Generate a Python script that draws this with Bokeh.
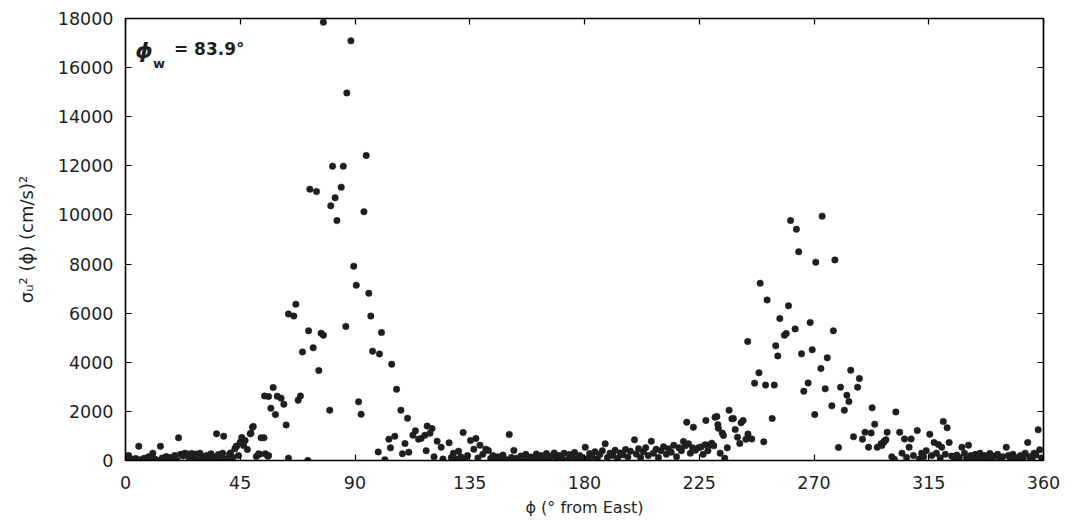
from bokeh.plotting import figure
from bokeh.models import LinearAxis, FixedTicker, Range1d, Label
from bokeh.embed import file_html
from bokeh.resources import INLINE

# Wave-direction bins (degrees from East) and velocity variance (cm/s)^2

# 0-45 deg: quiet sector
phi_a = [0.3, 0.8, 1.2, 1.8, 2.5, 3.2, 4.0, 5.2, 5.8, 6.5, 7.3, 8.1, 9.0, 9.8,
         10.7, 11.5, 12.3, 13.7, 14.4, 15.2, 16.0, 16.9, 17.6, 18.4, 19.3, 20.1,
         20.8, 21.6, 22.5, 23.3, 24.2, 25.0, 25.9, 26.7, 27.5, 28.4, 29.2, 30.1,
         30.9, 31.8, 32.6, 33.5, 34.3, 35.2, 35.7, 36.4, 37.2, 38.1, 38.5, 39.3,
         40.0, 40.8, 41.2, 42.1, 42.9, 43.4, 43.6, 44.3]
var_a = [120, 40, 200, 0, 60, 10, 80, 580, 30, 0, 90, 20, 150, 0,
         300, 60, 10, 580, 100, 30, 160, 0, 120, 60, 200, 10,
         925, 250, 180, 300, 260, 80, 290, 120, 260, 20, 300, 160,
         90, 200, 40, 270, 150, 0, 1085, 240, 80, 300, 990, 60,
         0, 250, 310, 120, 475, 580, 580, 200]

# 45-125 deg: first peak
phi_b = [45.0, 45.6, 46.9, 46.3, 47.8, 48.9, 49.8, 49.2, 50.1, 51.3, 52.2, 52.6,
         53.2, 54.3, 54.8, 55.8, 56.1, 54.5, 56.1, 57.9, 57.0, 58.8, 59.5, 61.0,
         62.1, 63.0, 63.9, 63.9, 66.0, 66.8, 67.7, 68.6, 69.4, 71.8, 71.5, 72.3,
         73.6, 74.9, 75.8, 76.7, 77.6, 77.6, 80.1, 80.5, 81.2, 82.2, 82.9, 84.6,
         85.4, 86.4, 86.8, 88.4, 89.5, 90.5, 91.4, 92.4, 93.5, 94.4, 95.4, 96.2,
         96.9, 99.6, 100.4, 99.1, 101.7, 103.3, 103.9, 104.4, 105.6, 106.3, 108.0,
         108.6, 109.6, 110.6, 111.1, 112.7, 113.7, 114.9, 115.9, 117.4, 117.9,
         118.3, 119.4, 120.2, 121.0, 122.2, 123.8, 124.5]
var_b = [745, 935, 815, 610, 450, 1085, 1355, 1110, 1385, 160, 270, 250,
         925, 925, 270, 175, 200, 2630, 2605, 2970, 2130, 1870, 2620, 2540,
         2290, 1450, 95, 5970, 5880, 6365, 2455, 2630, 4420, 5280, 0, 11050,
         4590, 10950, 3665, 5180, 5100, 17850, 2050, 10370, 11985, 10700, 9770, 11130,
         11985, 5460, 14970, 17090, 7910, 7140, 2390, 1885, 10130, 12420, 6810, 5880,
         4450, 4340, 5210, 350, 30, 870, 515, 3920, 990, 2900, 2050,
         270, 690, 1720, 340, 1030, 1210, 870, 895, 1030, 400,
         1400, 1110, 1300, 150, 785, 540, 60]

# 125-225 deg: quiet sector
phi_c = [126.9, 127.8, 128.6, 129.5, 130.6, 131.5, 132.4, 133.2, 134.1, 135.3,
         136.6, 137.4, 138.2, 139.0, 140.1, 141.3, 142.3, 143.2, 144.1, 145.0,
         146.0, 147.1, 148.0, 149.1, 150.5, 151.3, 152.3, 153.2, 154.2, 155.1,
         156.0, 157.0, 158.1, 159.0, 160.0, 161.1, 162.0, 163.0, 164.0, 165.1,
         166.0, 167.0, 168.1, 169.0, 170.0, 171.0, 172.0, 173.1, 174.0, 175.0,
         176.1, 177.0, 178.1, 179.0, 180.3, 181.2, 182.0, 183.0, 184.1, 185.0,
         186.0, 187.0, 188.1, 189.0, 190.0, 191.1, 192.0, 193.0, 194.0, 195.0,
         196.1, 197.0, 198.0, 199.6, 200.3, 201.2, 202.0, 203.1, 204.0, 205.0,
         206.2, 207.0, 208.1, 209.0, 210.0, 211.0, 212.1, 213.0, 214.0, 215.0,
         216.1, 217.0, 218.0, 218.8, 219.5, 220.1, 220.8, 221.5, 222.4, 222.7,
         223.5, 224.7]
var_c = [720, 120, 300, 60, 380, 150, 1140, 40, 200, 815,
         460, 895, 100, 625, 250, 460, 410, 80, 200, 30,
         150, 60, 220, 40, 1060, 120, 410, 90, 0, 180,
         60, 250, 20, 140, 100, 260, 40, 200, 90, 280,
         30, 170, 310, 60, 200, 110, 300, 20, 240, 150,
         330, 70, 200, 120, 540, 80, 280, 160, 360, 60,
         240, 400, 680, 120, 300, 200, 420, 90, 310, 230,
         450, 140, 380, 840, 260, 480, 120, 360, 520, 200,
         785, 300, 460, 120, 400, 560, 250, 480, 340, 620,
         150, 520, 400, 775, 600, 1560, 680, 300, 515, 1355,
         420, 515]

# 225-305 deg: second peak
phi_d = [225.7, 226.5, 227.3, 227.6, 228.4, 229.1, 229.9, 230.7, 231.2, 231.9,
         232.3, 232.5, 233.2, 234.0, 234.5, 235.0, 236.0, 236.7, 237.8, 238.4,
         239.1, 240.0, 240.9, 241.4, 242.2, 243.3, 244.1, 244.0, 245.6, 246.7,
         248.4, 248.9, 250.3, 251.0, 251.6, 253.6, 254.4, 255.0, 255.8, 256.6,
         258.4, 259.1, 260.0, 260.8, 262.6, 263.1, 264.0, 265.1, 266.0, 267.7,
         268.5, 269.3, 270.3, 270.7, 272.7, 273.2, 274.4, 275.2, 277.0, 277.6,
         278.2, 279.6, 280.4, 281.9, 282.9, 283.7, 284.4, 285.5, 287.1, 287.8,
         289.0, 290.0, 291.4, 292.4, 292.8, 293.8, 294.8, 296.3, 296.6, 297.3,
         297.6, 298.2, 298.7, 300.5, 301.5, 302.1, 303.6]
var_d = [550, 250, 640, 1630, 400, 640, 705, 600, 1765, 1790,
         1460, 1315, 300, 1120, 1020, 95, 515, 2050, 1700, 1710,
         1260, 950, 690, 1535, 1630, 865, 1075, 4845, 880, 3150,
         3570, 7220, 760, 3070, 6540, 1710, 3070, 4670, 4260, 5780,
         5100, 5170, 6300, 9770, 5360, 9420, 8500, 4345, 2820, 3160,
         5620, 4510, 1870, 8075, 3745, 9950, 2920, 4180, 2225, 5280,
         8170, 530, 2985, 2050, 2660, 2400, 3680, 965, 2985, 3340,
         870, 1150, 540, 1125, 2145, 1480, 540, 680, 610, 745,
         785, 840, 1150, 150, 50, 1980, 1150]

# 303-360 deg: quiet sector
phi_e = [304.5, 305.5, 306.3, 307.3, 308.1, 309.0, 310.5, 311.3, 312.2, 313.0,
         314.0, 315.4, 316.2, 317.1, 318.0, 318.8, 319.5, 320.1, 320.7, 321.5,
         322.2, 323.0, 324.0, 325.0, 326.0, 327.0, 328.0, 329.0, 329.8, 330.6,
         331.5, 332.4, 333.3, 334.2, 335.1, 336.0, 337.0, 338.0, 339.0, 340.0,
         341.0, 342.0, 343.0, 344.0, 345.4, 346.2, 347.0, 348.0, 349.0, 350.0,
         351.0, 352.0, 352.8, 353.8, 354.6, 355.5, 356.3, 357.0, 357.9, 358.5,
         359.2, 359.8]
var_e = [300, 880, 120, 540, 880, 200, 1220, 60, 300, 150,
         400, 1070, 200, 735, 300, 650, 100, 540, 1590, 250,
         1330, 735, 180, 60, 220, 120, 540, 300, 80, 625,
         200, 40, 250, 150, 300, 60, 200, 100, 280, 30,
         180, 250, 60, 150, 540, 200, 40, 250, 120, 20,
         200, 90, 300, 735, 150, 40, 300, 220, 1250, 435,
         100, 0]

x_ticks = [0, 45, 90, 135, 180, 225, 270, 315, 360]
y_ticks = [0, 2000, 4000, 6000, 8000, 10000, 12000, 14000, 16000, 18000]

phi = phi_a + phi_b + phi_c + phi_d + phi_e
var_u = var_a + var_b + var_c + var_d + var_e

FONT = "DejaVu Sans"
INK = "#1f1f1f"

p = figure(width=1071, height=522, output_backend="svg", toolbar_location=None,
           x_range=Range1d(0, 360), y_range=Range1d(0, 18000),
           min_border_left=125, min_border_right=28,
           min_border_top=18, min_border_bottom=62,
           x_axis_label="ϕ (° from East)",
           y_axis_label="σᵤ² (ϕ) (cm/s)²")

p.scatter(phi, var_u, size=6.5, marker="circle",
          fill_color=INK, line_color=INK, line_width=0.5)

p.grid.visible = False
p.outline_line_color = "black"
p.outline_line_width = 1.2
p.background_fill_color = "white"
p.border_fill_color = "white"

def style_axis(ax, ticks, show_labels):
    ax.ticker = FixedTicker(ticks=ticks)
    ax.minor_tick_line_color = None
    ax.major_tick_in = 6
    ax.major_tick_out = 0
    ax.major_tick_line_color = "black"
    ax.major_tick_line_width = 1.2
    ax.axis_line_color = "black"
    ax.axis_line_width = 1.5
    ax.major_label_text_font = FONT
    ax.major_label_text_font_size = "17.5px"
    ax.major_label_text_color = INK if show_labels else None
    ax.axis_label_text_font = FONT
    ax.axis_label_text_font_size = "16px"
    ax.axis_label_text_font_style = "normal"
    ax.axis_label_text_color = INK

style_axis(p.xaxis[0], x_ticks, True)
style_axis(p.yaxis[0], y_ticks, True)
p.xaxis[0].major_label_standoff = 15
p.xaxis[0].axis_label_standoff = 6
p.yaxis[0].major_label_standoff = 12
p.yaxis[0].axis_label_standoff = 18
p.yaxis[0].axis_label_text_font_size = "18px"

# mirrored tick marks on the top and right edges of the box
top = LinearAxis()
right = LinearAxis()
style_axis(top, x_ticks, False)
style_axis(right, y_ticks, False)
top.major_label_text_font_size = "0px"
right.major_label_text_font_size = "0px"
top.major_label_standoff = 0
right.major_label_standoff = 0
p.add_layout(top, "above")
p.add_layout(right, "right")

# wave direction annotation
p.add_layout(Label(x=3.8, y=16700, text="ϕ", text_font=FONT,
                   text_font_style="bold italic", text_font_size="22px",
                   text_color=INK, text_baseline="alphabetic"))
p.add_layout(Label(x=10.8, y=16150, text="w", text_font=FONT,
                   text_font_style="bold", text_font_size="13px",
                   text_color=INK, text_baseline="alphabetic"))
p.add_layout(Label(x=19.0, y=16750, text="= 83.9°", text_font=FONT,
                   text_font_style="bold", text_font_size="17px",
                   text_color=INK, text_baseline="alphabetic"))

open("out.html", "w").write(file_html(p, INLINE))
